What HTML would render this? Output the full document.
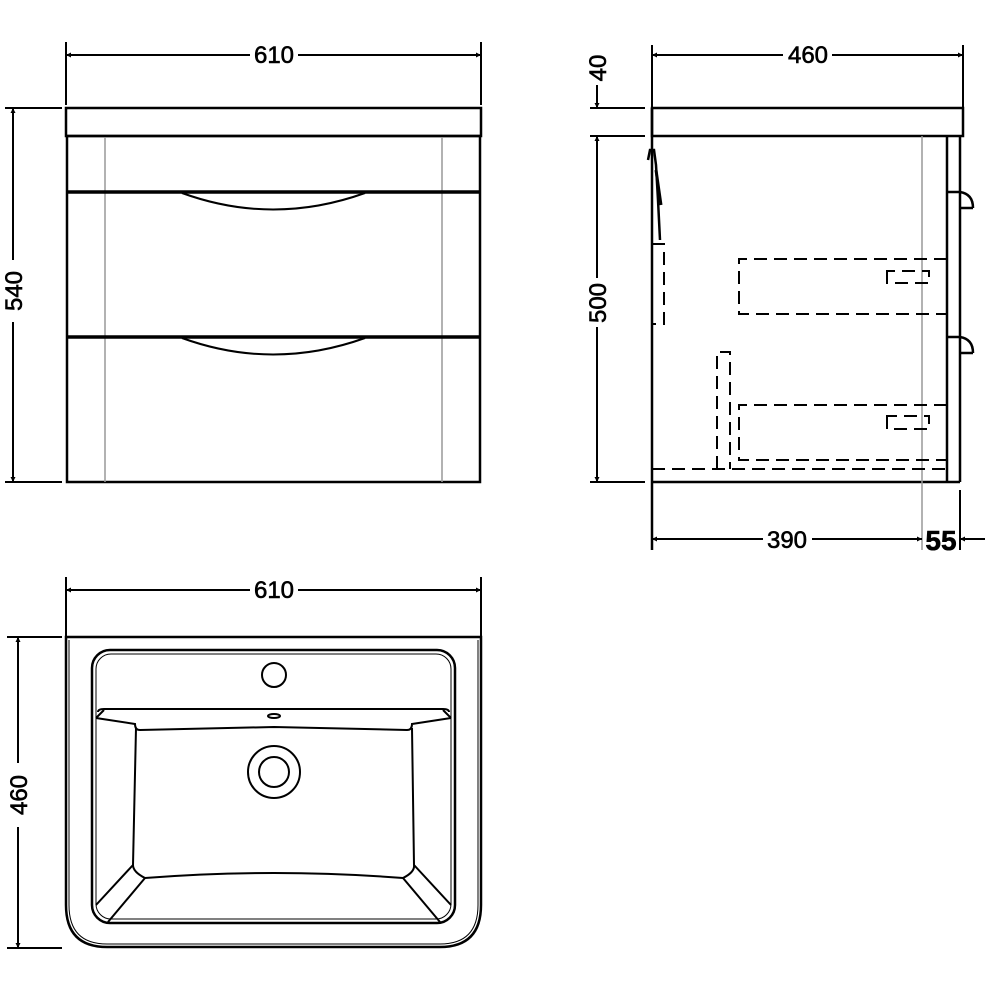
<!DOCTYPE html>
<html><head><meta charset="utf-8"><style>
html,body{margin:0;padding:0;background:#fff;width:1000px;height:1000px;overflow:hidden}
svg text{font-family:"Liberation Sans",Arial,sans-serif;fill:#000;stroke:#000;stroke-width:0.6}
</style></head><body>
<svg width="1000" height="1000" viewBox="0 0 1000 1000" xmlns="http://www.w3.org/2000/svg">
<defs>
<marker id="a" viewBox="0 0 10 10" refX="10" refY="5" markerWidth="12" markerHeight="5" orient="auto-start-reverse" markerUnits="userSpaceOnUse"><path d="M0,0 L10,5 L0,10 Z" fill="#000"/></marker>
</defs>
<g fill="none" stroke="#000" stroke-width="2">
<!-- FRONT VIEW -->
<line x1="66" y1="42" x2="66" y2="105"/><line x1="481" y1="42" x2="481" y2="105"/>
<line x1="66" y1="55" x2="250" y2="55" marker-start="url(#a)"/><line x1="298" y1="55" x2="481" y2="55" marker-end="url(#a)"/>
<rect x="66" y="108" width="415" height="28" stroke-width="2.5"/>
<rect x="67" y="136" width="413" height="346" stroke-width="2.5"/>
<line x1="105" y1="137" x2="105" y2="482" stroke="#999" stroke-width="1.5"/><line x1="442" y1="137" x2="442" y2="482" stroke="#999" stroke-width="1.5"/>
<line x1="67" y1="192" x2="480" y2="192" stroke-width="3.5"/>
<line x1="67" y1="337" x2="480" y2="337" stroke-width="3.5"/>
<path d="M182,193 Q273,226 365,193"/>
<path d="M182,338 Q273,371 365,338"/>
<line x1="5" y1="108" x2="62" y2="108"/><line x1="5" y1="482" x2="62" y2="482"/>
<line x1="13" y1="108" x2="13" y2="260" marker-start="url(#a)"/><line x1="13" y1="322" x2="13" y2="482" marker-end="url(#a)"/>

<!-- SIDE VIEW -->
<line x1="652" y1="45" x2="652" y2="108"/><line x1="963" y1="45" x2="963" y2="108"/>
<line x1="652" y1="55" x2="783" y2="55" marker-start="url(#a)"/><line x1="832" y1="55" x2="963" y2="55" marker-end="url(#a)"/>
<rect x="652" y="108" width="311" height="28" stroke-width="2.5"/>
<line x1="652" y1="108" x2="652" y2="550" stroke-width="2.5"/>
<line x1="652" y1="482" x2="960" y2="482" stroke-width="2.5"/>
<line x1="947" y1="136" x2="947" y2="482" stroke-width="2.5"/>
<line x1="960" y1="136" x2="960" y2="482" stroke-width="2.5"/>
<line x1="922" y1="136" x2="922" y2="550" stroke="#999" stroke-width="1.5"/>
<line x1="960" y1="490" x2="960" y2="550"/>
<path d="M947,192 H960 Q973,194 973,208 M960,208 H973" stroke-width="2.5"/>
<path d="M947,337 H960 Q973,339 973,353 M960,353 H973" stroke-width="2.5"/>
<g stroke-dasharray="13,7" stroke-width="2">
<path d="M947,259 H739 V314 H947"/>
<path d="M947,405 H739 V460 H947"/>
<path d="M652,469 H947"/>
<path d="M717,469 V352 H730 V469"/>
<path d="M652,244 H664 V324 H652"/>
<path d="M887,271 V283 H929 V271 Z"/>
<path d="M887,416 V429 H929 V416 Z"/>
</g>
<path d="M648,160 L650,150 L654,150 L656,165 L658,200 L660,240" stroke-width="2.5"/>
<path d="M656,170 L661,205" stroke-width="3"/>
<line x1="590" y1="108" x2="645" y2="108"/><line x1="590" y1="136" x2="645" y2="136"/><line x1="590" y1="482" x2="645" y2="482"/>
<line x1="597" y1="85" x2="597" y2="108" marker-end="url(#a)"/>
<line x1="597" y1="136" x2="597" y2="278" marker-start="url(#a)"/><line x1="597" y1="327" x2="597" y2="482" marker-end="url(#a)"/>
<line x1="652" y1="539" x2="763" y2="539" marker-start="url(#a)"/><line x1="812" y1="539" x2="922" y2="539" marker-end="url(#a)"/>
<line x1="960" y1="539" x2="985" y2="539" marker-start="url(#a)"/>
<!-- TOP VIEW -->
<line x1="66" y1="577" x2="66" y2="637"/><line x1="481" y1="577" x2="481" y2="637"/>
<line x1="66" y1="590" x2="250" y2="590" marker-start="url(#a)"/><line x1="298" y1="590" x2="481" y2="590" marker-end="url(#a)"/>
<path d="M66,637 H481 V905 Q481,947 440,947 H107 Q66,947 66,905 Z" stroke-width="2.5"/>
<path d="M69,640 V905 Q69,944 107,944 H440 Q478,944 478,905 V640" stroke-width="1"/>
<line x1="7" y1="637" x2="62" y2="637"/><line x1="7" y1="948" x2="62" y2="948"/>
<line x1="18" y1="637" x2="18" y2="763" marker-start="url(#a)"/><line x1="18" y1="827" x2="18" y2="948" marker-end="url(#a)"/>
<rect x="92" y="650" width="363" height="273" rx="18" stroke-width="2.5"/>
<rect x="96" y="654" width="355" height="265" rx="15" stroke-width="1"/>
<circle cx="274" cy="675" r="12"/>
<path d="M98,712 Q98,709 104,709 H443 Q449,709 449,712"/>
<path d="M96,718 L135,724 Q135,730 140,730 L274,727 L407,730 Q412,730 412,724 L451,718"/>
<path d="M104,710 L96,718 M443,710 L451,718"/>
<ellipse cx="274" cy="716" rx="6" ry="2" stroke-width="2"/>
<path d="M136,728 L133,865 Q133,872 145,878 Q274,868 403,878 Q415,872 414,865 L412,728"/>
<path d="M133,865 L96,905 M145,878 L108,922 M414,865 L451,905 M403,878 L440,922"/>
<circle cx="274" cy="772" r="26"/><circle cx="274" cy="772" r="15"/>
</g>
<g>
<text x="274" y="63" text-anchor="middle" style="font-size:24px">610</text>
<text transform="translate(22,291) rotate(-90)" text-anchor="middle" style="font-size:24px">540</text>
<text x="808" y="63" text-anchor="middle" style="font-size:24px">460</text>
<text transform="translate(606,68) rotate(-90)" text-anchor="middle" style="font-size:24px">40</text>
<text transform="translate(606,303) rotate(-90)" text-anchor="middle" style="font-size:24px">500</text>
<text x="787" y="548" text-anchor="middle" style="font-size:24px">390</text>
<text x="941" y="550" text-anchor="middle" style="font-size:28px;font-weight:bold">55</text>
<text x="274" y="598" text-anchor="middle" style="font-size:24px">610</text>
<text transform="translate(27,795) rotate(-90)" text-anchor="middle" style="font-size:24px">460</text>
</g>
</svg>
</body></html>
